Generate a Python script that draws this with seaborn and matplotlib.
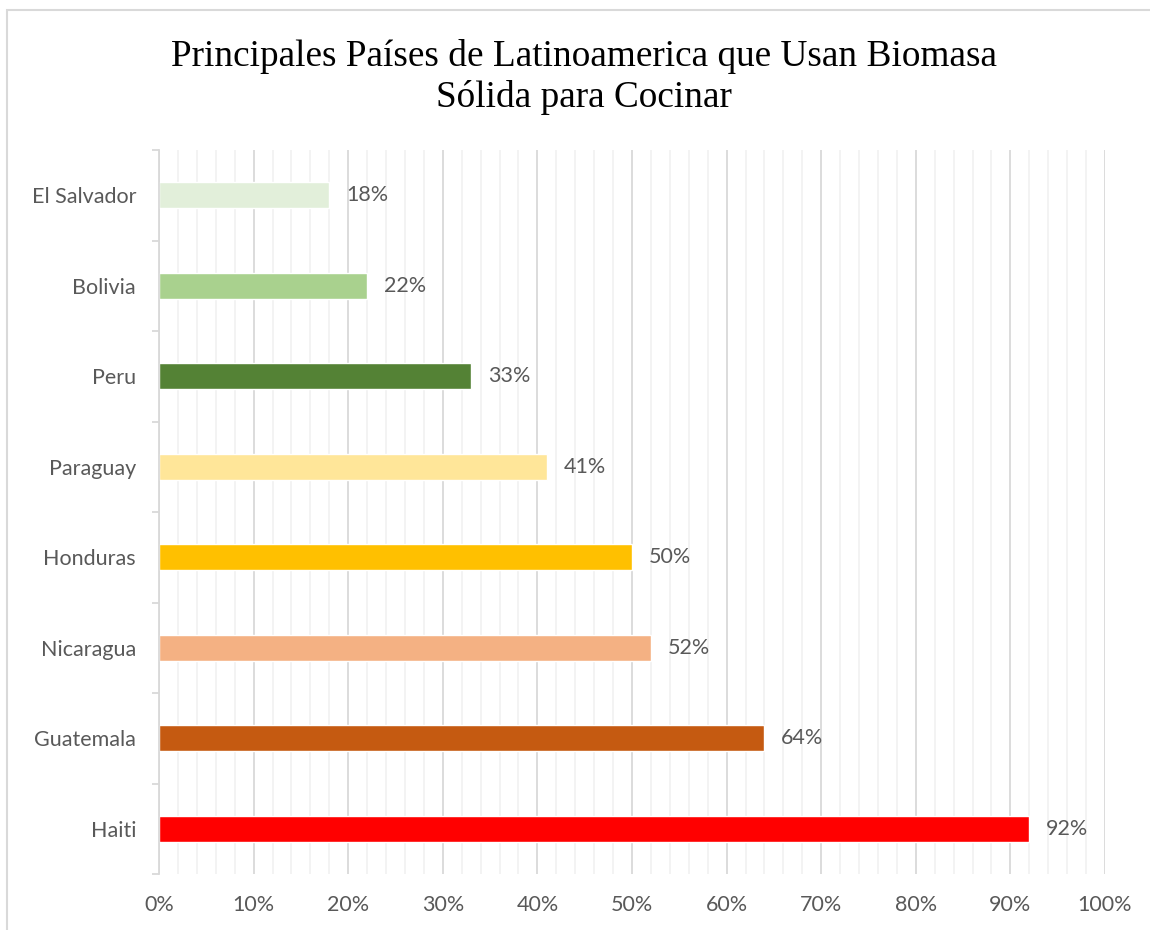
import numpy as np
import pandas as pd
import matplotlib
matplotlib.use("Agg")
import matplotlib.pyplot as plt
from matplotlib.ticker import MultipleLocator, FixedLocator, PercentFormatter
from matplotlib.patches import Rectangle
import seaborn as sns

# data
countries = ['El Salvador', 'Bolivia', 'Peru', 'Paraguay', 'Honduras',
             'Nicaragua', 'Guatemala', 'Haiti']
shares = [0.18, 0.22, 0.33, 0.41, 0.50, 0.52, 0.64, 0.92]
bar_colors = ['#E2EFDA', '#A9D18E', '#548235', '#FFE699', '#FFC000',
              '#F4B183', '#C55A11', '#FF0000']

title_lines = ['Principales Países de Latinoamerica que Usan Biomasa',
               'Sólida para Cocinar']

text_gray = '#595959'
label_font = ['Lato', 'DejaVu Sans']
label_size = 15.5

sns.set_theme(style='white')
plt.rcParams['font.family'] = label_font

df = pd.DataFrame({'country': countries, 'share': shares})

fig = plt.figure(figsize=(11.5, 9.3), dpi=100)
ax = fig.add_axes([159 / 1150, 1 - 874 / 930, (1105 - 159) / 1150, (874 - 150) / 930])

sns.barplot(data=df, x='share', y='country', hue='country',
            palette=dict(zip(countries, bar_colors)), order=countries,
            width=0.29, legend=False, saturation=1, ax=ax)

ax.set_xlim(0, 1)
ax.set_ylim(len(countries) - 0.5, -0.5)
ax.set_xlabel('')
ax.set_ylabel('')

# gridlines
ax.xaxis.set_major_locator(MultipleLocator(0.1))
ax.xaxis.set_minor_locator(MultipleLocator(0.02))
ax.xaxis.set_major_formatter(PercentFormatter(1.0, decimals=0))
ax.grid(False)
ax.grid(True, axis='x', which='major', color='#D9D9D9', linewidth=1.3)
ax.grid(True, axis='x', which='minor', color='#F2F2F2', linewidth=1.3)
ax.set_axisbelow(True)

for side in ['top', 'right', 'bottom']:
    ax.spines[side].set_visible(False)
ax.spines['left'].set_color('#D9D9D9')
ax.spines['left'].set_linewidth(1.3)

ax.tick_params(axis='x', which='both', length=0, pad=15,
               labelsize=label_size, labelcolor=text_gray)
ax.tick_params(axis='y', which='major', length=0, pad=16.5,
               labelsize=label_size, labelcolor=text_gray)
ax.yaxis.set_minor_locator(FixedLocator(np.arange(-0.5, len(countries), 1)))
ax.tick_params(axis='y', which='minor', left=True, direction='out',
               length=5, width=1.3, color='#D9D9D9')

for cont in ax.containers:
    ax.bar_label(cont, labels=[f'{v * 100:.0f}%' for v in cont.datavalues],
                 padding=12, fontsize=label_size, color=text_gray)

fig.text(584 / 1150, 1 - 77 / 930, '\n'.join(title_lines), ha='center', va='center',
         fontsize=26.8, family=['Liberation Serif', 'DejaVu Serif'], color='black',
         linespacing=1.25)

# chart border (only top and left edges are inside the image)
fig.patches.append(Rectangle((7 / 1150, -0.05), 1.2, 1 - 10 / 930 + 0.05,
                             transform=fig.transFigure, fill=False,
                             edgecolor='#D9D9D9', linewidth=1.5))

fig.savefig('out.png', dpi=100)
